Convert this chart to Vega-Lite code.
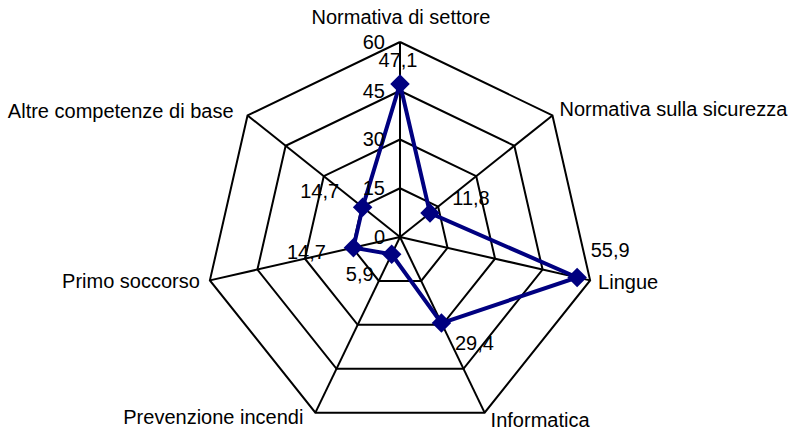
{
  "$schema": "https://vega.github.io/schema/vega-lite/v6.json",
  "width": 795,
  "height": 430,
  "autosize": {"type": "none"},
  "padding": 0,
  "background": "white",
  "config": {"view": {"stroke": null}, "text": {"font": "Liberation Sans", "fontSize": 20, "color": "black", "baseline": "middle"}},
  "data": {"values": [
    {"category": "Normativa di settore", "value": 47.1},
    {"category": "Normativa sulla sicurezza", "value": 11.8},
    {"category": "Lingue", "value": 55.9},
    {"category": "Informatica", "value": 29.4},
    {"category": "Prevenzione incendi", "value": 5.9},
    {"category": "Primo soccorso", "value": 14.7},
    {"category": "Altre competenze di base", "value": 14.7}
  ]},
  "transform": [
    {"window": [{"op": "row_number", "as": "idx"}]},
    {"calculate": "datum.idx == 1 ? [1, 8] : [datum.idx]", "as": "reps"},
    {"flatten": ["reps"]},
    {"calculate": "(datum.reps - 1) * 2 * PI / 7", "as": "ang"}
  ],
  "encoding": {
    "x": {"field": "px", "type": "quantitative", "scale": {"domain": [-123.077, 121.538], "nice": false, "zero": false}, "axis": null},
    "y": {"field": "py", "type": "quantitative", "scale": {"domain": [-59.385, 72.923], "nice": false, "zero": false}, "axis": null}
  },
  "layer": [
    {
      "transform": [
        {"calculate": "[15, 30, 45, 60]", "as": "lv"},
        {"flatten": ["lv"]},
        {"calculate": "datum.lv * sin(datum.ang)", "as": "px"},
        {"calculate": "datum.lv * cos(datum.ang)", "as": "py"}
      ],
      "mark": {"type": "line", "color": "black", "strokeWidth": 2},
      "encoding": {"detail": {"field": "lv", "type": "nominal"}, "order": {"field": "reps", "type": "quantitative"}}
    },
    {
      "transform": [
        {"filter": "datum.reps < 8"},
        {"calculate": "60 * sin(datum.ang)", "as": "px"},
        {"calculate": "60 * cos(datum.ang)", "as": "py"}
      ],
      "mark": {"type": "rule", "color": "black", "strokeWidth": 2},
      "encoding": {"x2": {"datum": 0}, "y2": {"datum": 0}}
    },
    {
      "transform": [
        {"calculate": "datum.value * sin(datum.ang)", "as": "px"},
        {"calculate": "datum.value * cos(datum.ang)", "as": "py"}
      ],
      "mark": {"type": "line", "color": "#000080", "strokeWidth": 4},
      "encoding": {"order": {"field": "reps", "type": "quantitative"}}
    },
    {
      "transform": [
        {"filter": "datum.reps < 8"},
        {"calculate": "datum.value * sin(datum.ang)", "as": "px"},
        {"calculate": "datum.value * cos(datum.ang)", "as": "py"}
      ],
      "mark": {"type": "point", "shape": "diamond", "filled": true, "size": 380, "color": "#000080", "opacity": 1},
      "encoding": {}
    },
    {
      "transform": [
        {"filter": "datum.reps == 1"},
        {"calculate": "[0, 15, 30, 45, 60]", "as": "lv"},
        {"flatten": ["lv"]},
        {"calculate": "0", "as": "px"},
        {"calculate": "datum.lv", "as": "py"}
      ],
      "mark": {"type": "text", "align": "right", "dx": -15, "dy": 1},
      "encoding": {"text": {"field": "lv", "type": "quantitative"}}
    },
    {
      "transform": [
        {"filter": "datum.reps < 8"},
        {"calculate": "60 * sin(datum.ang)", "as": "px"},
        {"calculate": "60 * cos(datum.ang)", "as": "py"}
      ],
      "encoding": {"text": {"field": "category", "type": "nominal"}},
      "layer": [
        {"transform": [{"filter": "datum.category == 'Normativa di settore'"}], "mark": {"type": "text", "align": "center", "dx": 1, "dy": -24}},
        {"transform": [{"filter": "datum.category == 'Normativa sulla sicurezza'"}], "mark": {"type": "text", "align": "left", "dx": 7, "dy": -5}},
        {"transform": [{"filter": "datum.category == 'Lingue'"}], "mark": {"type": "text", "align": "left", "dx": 8, "dy": 3}},
        {"transform": [{"filter": "datum.category == 'Informatica'"}], "mark": {"type": "text", "align": "left", "dx": 6, "dy": 8}},
        {"transform": [{"filter": "datum.category == 'Prevenzione incendi'"}], "mark": {"type": "text", "align": "right", "dx": -12, "dy": 5}},
        {"transform": [{"filter": "datum.category == 'Primo soccorso'"}], "mark": {"type": "text", "align": "right", "dx": -10, "dy": 2}},
        {"transform": [{"filter": "datum.category == 'Altre competenze di base'"}], "mark": {"type": "text", "align": "right", "dx": -14, "dy": -3}}
      ]
    },
    {
      "transform": [
        {"filter": "datum.reps < 8"},
        {"calculate": "datum.value * sin(datum.ang)", "as": "px"},
        {"calculate": "datum.value * cos(datum.ang)", "as": "py"},
        {"calculate": "replace(format(datum.value, '.1f'), '.', ',')", "as": "lbl"}
      ],
      "encoding": {"text": {"field": "lbl", "type": "nominal"}},
      "layer": [
        {"transform": [{"filter": "datum.category == 'Normativa di settore'"}], "mark": {"type": "text", "align": "center", "dx": -2, "dy": -23}},
        {"transform": [{"filter": "datum.category == 'Normativa sulla sicurezza'"}], "mark": {"type": "text", "align": "center", "dx": 41, "dy": -14}},
        {"transform": [{"filter": "datum.category == 'Lingue'"}], "mark": {"type": "text", "align": "center", "dx": 33, "dy": -26}},
        {"transform": [{"filter": "datum.category == 'Informatica'"}], "mark": {"type": "text", "align": "center", "dx": 33, "dy": 21}},
        {"transform": [{"filter": "datum.category == 'Prevenzione incendi'"}], "mark": {"type": "text", "align": "center", "dx": -32, "dy": 21}},
        {"transform": [{"filter": "datum.category == 'Primo soccorso'"}], "mark": {"type": "text", "align": "center", "dx": -47, "dy": 5}},
        {"transform": [{"filter": "datum.category == 'Altre competenze di base'"}], "mark": {"type": "text", "align": "center", "dx": -43, "dy": -15}}
      ]
    }
  ]
}
